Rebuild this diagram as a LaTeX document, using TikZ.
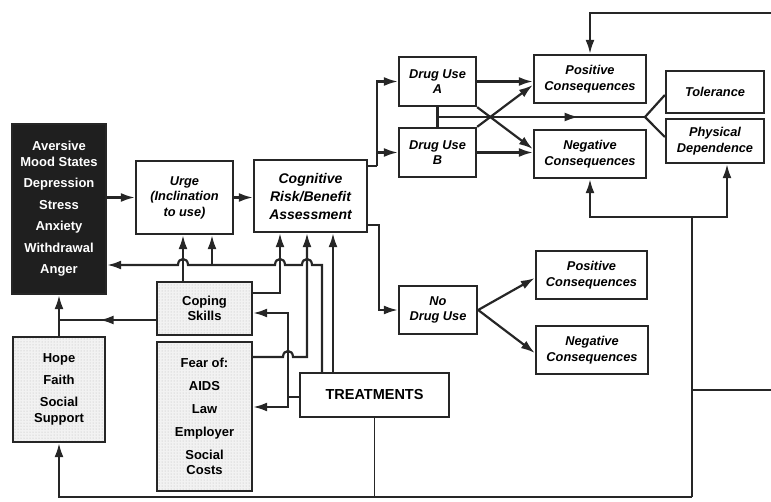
\documentclass[tikz,border=0pt]{standalone}
\usepackage{fontspec}
\setmainfont{Liberation Sans}
\usetikzlibrary{arrows.meta,decorations.markings,patterns,calc}

\newcommand\labfont{\fontsize{12.8}{15.5}\selectfont\bfseries\itshape}
\newcommand\listfont{\fontsize{13}{15.5}\selectfont\bfseries}

\begin{document}
\begin{tikzpicture}[x=1pt,y=-1pt,
  box/.style={draw=black!85, line width=2.3pt, fill=white, inner sep=0pt,
    align=center, font=\labfont},
  listbox/.style={box, font=\listfont},
  stipple/.style={pattern=dots, pattern color=gray!55, preaction={fill=gray!10}},
  darkbox/.style={box, fill=black!88, text=white, font=\listfont},
  conn/.style={draw=black!85, line width=2.2pt},
  thinconn/.style={draw=black!85, line width=1.6pt},
  arr/.style={-{Latex[length=14pt,width=9pt]}},
  midarr/.style={postaction={decorate}, decoration={markings,
    mark=at position #1 with {\arrow{Latex[length=14pt,width=9pt]}}}}
]
\useasboundingbox (0,0) rectangle (771,501);

% ---------- boxes ----------
\node[darkbox, minimum width=94pt, minimum height=170pt] (mood) at (59,209)
  {Aversive\\Mood States\\[6pt]Depression\\[6pt]Stress\\[6pt]Anxiety\\[6pt]Withdrawal\\[6pt]Anger};
\node[box, minimum width=97pt, minimum height=73pt] (urge) at (184.5,197.5)
  {Urge\\(Inclination\\to use)};
\node[box, minimum width=113pt, minimum height=72pt,
  font=\fontsize{14}{18}\selectfont\bfseries\itshape] (cog) at (310.5,196)
  {Cognitive\\Risk/Benefit\\Assessment};
\node[box, minimum width=77pt, minimum height=49pt] (drugA) at (437.5,81.5) {Drug Use\\A};
\node[box, minimum width=77pt, minimum height=49pt] (drugB) at (437.5,152.5) {Drug Use\\B};
\node[box, minimum width=112pt, minimum height=48pt] (posA) at (590,79) {Positive\\Consequences};
\node[box, minimum width=112pt, minimum height=48pt] (negA) at (590,154) {Negative\\Consequences};
\node[box, minimum width=98pt, minimum height=42pt] (tol) at (715,92) {Tolerance};
\node[box, minimum width=98pt, minimum height=44pt] (phys) at (715,141) {Physical\\Dependence};
\node[box, minimum width=78pt, minimum height=48pt] (nodrug) at (438,310) {No\\Drug Use};
\node[box, minimum width=111pt, minimum height=48pt] (posB) at (591.5,275) {Positive\\Consequences};
\node[box, minimum width=112pt, minimum height=48pt] (negB) at (592,350) {Negative\\Consequences};
\node[listbox, minimum width=149pt, minimum height=44pt,
  font=\fontsize{14.5}{17}\selectfont\bfseries] (treat) at (374.5,395) {TREATMENTS};
\node[listbox, stipple, minimum width=95pt, minimum height=53pt] (coping) at (204.5,308.5)
  {Coping\\Skills};
\node[listbox, stipple, minimum width=95pt, minimum height=149pt] (fear) at (204.5,416.5)
  {Fear of:\\[8pt]AIDS\\[7pt]Law\\[8pt]Employer\\[7pt]Social\\Costs};
\node[listbox, stipple, minimum width=92pt, minimum height=105pt] (hope) at (59,389.5)
  {Hope\\[6pt]Faith\\[7pt]Social\\Support};

% ---------- routing columns and rows ----------
\coordinate (c1) at (183,0);
\coordinate (c2) at (212,0);
\coordinate (c3) at (280,0);
\coordinate (c4) at (307,0);
\coordinate (c5) at (322,0);
\coordinate (c6) at (333,0);
\coordinate (rFeed) at (0,265);
\coordinate (rCopeOut) at (0,293);
\coordinate (rCopeIn) at (0,313);
\coordinate (rFearOut) at (0,357);
\coordinate (rFearIn) at (0,407);

\coordinate (split) at (377,166);
\coordinate (nsplit) at (379,225);
\coordinate (tolrow) at (0,117);
\coordinate (fork) at (645,117);
\coordinate (topin) at (771,13);
\coordinate (rin) at (771,390);
\coordinate (loopT) at (692,217);
\coordinate (loopB) at (692,497);
\coordinate (cj) at (59,320);
\coordinate (tj) at (288,397);
\coordinate (uj) at (212,265);

% ---------- main chain ----------
\draw[conn,arr] (mood.east |- urge.west) -- (urge.west);
\draw[conn,arr] (urge.east) -- (urge.east -| cog.west);
\draw[conn] (cog.east |- split) -- (split);
\draw[conn,arr] (split) |- (drugA.west);
\draw[conn,arr] (split) |- (drugB.west);
\draw[conn,arr] (cog.east |- nsplit) -- (nsplit) |- (nodrug.west);

% ---------- drug use outcomes ----------
\draw[conn,arr] (drugA.east) -- (drugA.east -| posA.west);
\draw[conn,arr] (drugB.east) -- (drugB.east -| negA.west);
\draw[conn,arr] (drugB.north east) -- ($(posA.west)+(0,6)$);
\draw[conn,arr] (drugA.south east) -- ($(negA.west)+(0,-5)$);
\draw[conn] (drugA.south) -- (drugB.north);
\draw[conn,midarr=0.68] (drugA.south |- tolrow) -- (fork);
\draw[conn] (fork) -- ($(tol.west)+(0,3)$);
\draw[conn] (fork) -- ($(phys.west)+(0,-4)$);

\draw[conn,arr] (nodrug.east) -- ($(posB.west)+(0,3)$);
\draw[conn,arr] (nodrug.east) -- ($(negB.west)+(0,3)$);

% ---------- feedback loops on the right ----------
\draw[conn,arr] (topin) -| (posA.north);
\draw[conn] (rin) -- (rin -| loopT);
\draw[thinconn] (loopB) -- (loopT);
\draw[conn,arr] (loopT) -| (negA.south);
\draw[conn,arr] (loopT) -| ([xshift=12pt]phys.south);
\draw[conn,arr] (loopB) -| (hope.south);
\draw[thinconn] (treat.south) -- (treat.south |- loopB);

% ---------- left-hand supports ----------
\draw[conn,arr] (hope.north) -- (mood.south);
\draw[conn,midarr=0.58] (coping.west |- cj) -- (cj);
\draw[conn,arr] (coping.north -| c1) -- (urge.south -| c1);
\draw[conn,arr] (coping.east |- rCopeOut) -| (cog.south -| c3);
\draw[conn,arr] (fear.east |- rFearOut) -- (283,357)
  .. controls (283,349) and (293,349) .. (293,357) -| (cog.south -| c4);

% ---------- treatments ----------
\draw[conn,arr] (treat.north -| c5) -- (322,265) -- (312,265)
  .. controls (312,257) and (302,257) .. (302,265) -- (285,265)
  .. controls (285,257) and (275,257) .. (275,265) -- (188,265)
  .. controls (188,257) and (178,257) .. (178,265) -- (mood.east |- rFeed);
\draw[conn,arr] (uj) -- (urge.south -| c2);
\draw[conn,arr] (treat.north -| c6) -- (cog.south -| c6);
\draw[conn] (treat.west |- tj) -- (tj);
\draw[conn,arr] (tj) |- (coping.east |- rCopeIn);
\draw[conn,arr] (tj) |- (fear.east |- rFearIn);
\end{tikzpicture}
\end{document}
